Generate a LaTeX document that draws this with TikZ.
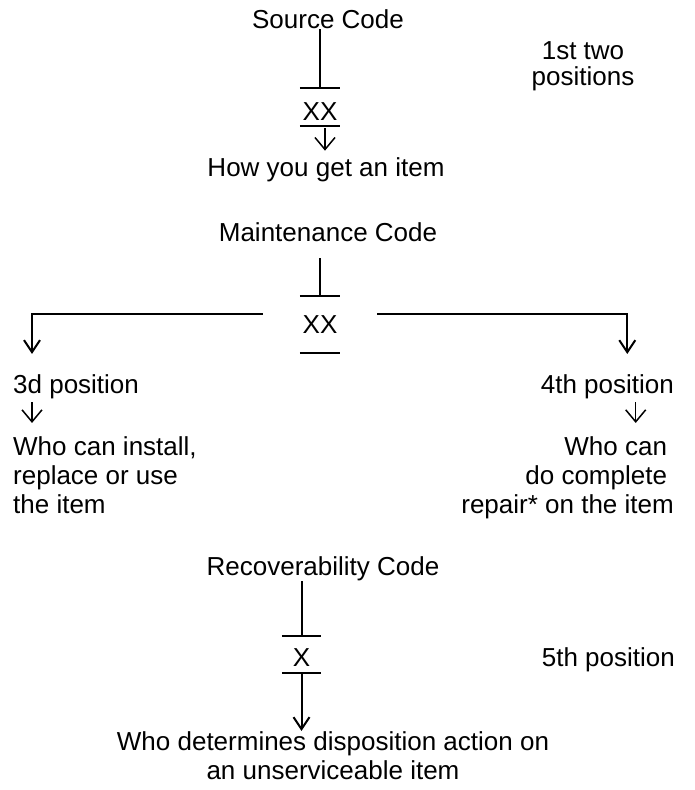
\documentclass[tikz,border=0pt]{standalone}
\usepackage{fontspec}
\setmainfont{Liberation Sans}
\usetikzlibrary{arrows.meta,positioning}

\begin{document}
\begin{tikzpicture}[x=1pt,y=-1pt,
    txt/.style={inner sep=0pt,font=\fontsize{26}{29}\selectfont},
    code/.style={txt,minimum width=40pt,minimum height=38pt},
    line/.style={line width=2pt},
    bigarr/.style={line width=2pt,-{Straight Barb[length=12pt,width=16pt]}},
    glyph/.style={line width=1.5pt,-{Straight Barb[length=12pt,width=20pt]}}]
   \useasboundingbox (0,0) rectangle (694,790);

   % first two positions
   \node[txt,anchor=base] (src) at (328,28.3) {Source Code};
   \node[txt,anchor=base,align=center] (pos12) at (583,85) {1st two\\[-3pt]positions};
   \node[code,text height=26pt] (sxx) at (320,107) {XX};
   \node[txt,anchor=base] (how) at (326,176.7) {How you get an item};

   % 3d and 4th positions
   \node[txt,anchor=base] (maint) at (328,241.7) {Maintenance Code};
   \node[code,minimum height=56.7pt] (mxx) at (320,324.3) {XX};
   \node[txt,anchor=base west] (pos3) at (13,393) {3d position};
   \node[txt,anchor=base west,align=left] (who3) at (13,513)
      {Who can install,\\replace or use\\the item};
   \node[txt,anchor=base east] (pos4) at (674,393) {4th position};
   \node[txt,anchor=base east,align=right] (who4) at (674,513)
      {Who can\kern.26em\\do complete\kern.26em\\repair* on the item};

   % 5th position
   \node[txt,anchor=base] (recov) at (323,575) {Recoverability Code};
   \node[code,text height=24pt,minimum width=39pt,minimum height=37pt] (rx) at (301.5,654.5) {X};
   \node[txt,anchor=base west] (pos5) at (541.7,666) {5th position};
   \node[txt,anchor=base,align=center] (disp) at (333,779)
      {Who determines disposition action on\\an unserviceable item};

   \foreach \c in {sxx,mxx,rx}
      \draw[line] (\c.north west) -- (\c.north east) (\c.south west) -- (\c.south east);

   \draw[line] (sxx.north) -- (sxx.north |- src.south);
   \draw[glyph,shorten <=2pt,shorten >=7pt] ([xshift=5pt]sxx.south) -- ([xshift=5pt]sxx.south |- how.north);

   \draw[line] (mxx.north) -- ([yshift=-16pt]mxx.north |- maint.south);
   \draw[bigarr] ([xshift=-37pt,yshift=10.3pt]mxx.west) -| ([xshift=19pt,yshift=20pt]pos3.north west);
   \draw[bigarr] ([xshift=37pt,yshift=10.3pt]mxx.east) -| ([xshift=-46.7pt,yshift=20pt]pos4.north east);
   \draw[glyph] ([xshift=19pt,yshift=-3.5pt]pos3.south west) -- ([xshift=19pt,yshift=13pt]who3.north west);
   \draw[glyph] ([xshift=-38.3pt,yshift=-3.5pt]pos4.south east) -- ([xshift=-38.3pt,yshift=13pt]who4.north east);

   \draw[line] (rx.north) -- (rx.north |- recov.south);
   \draw[bigarr] (rx.south) -- (rx.south |- disp.north);
\end{tikzpicture}
\end{document}
